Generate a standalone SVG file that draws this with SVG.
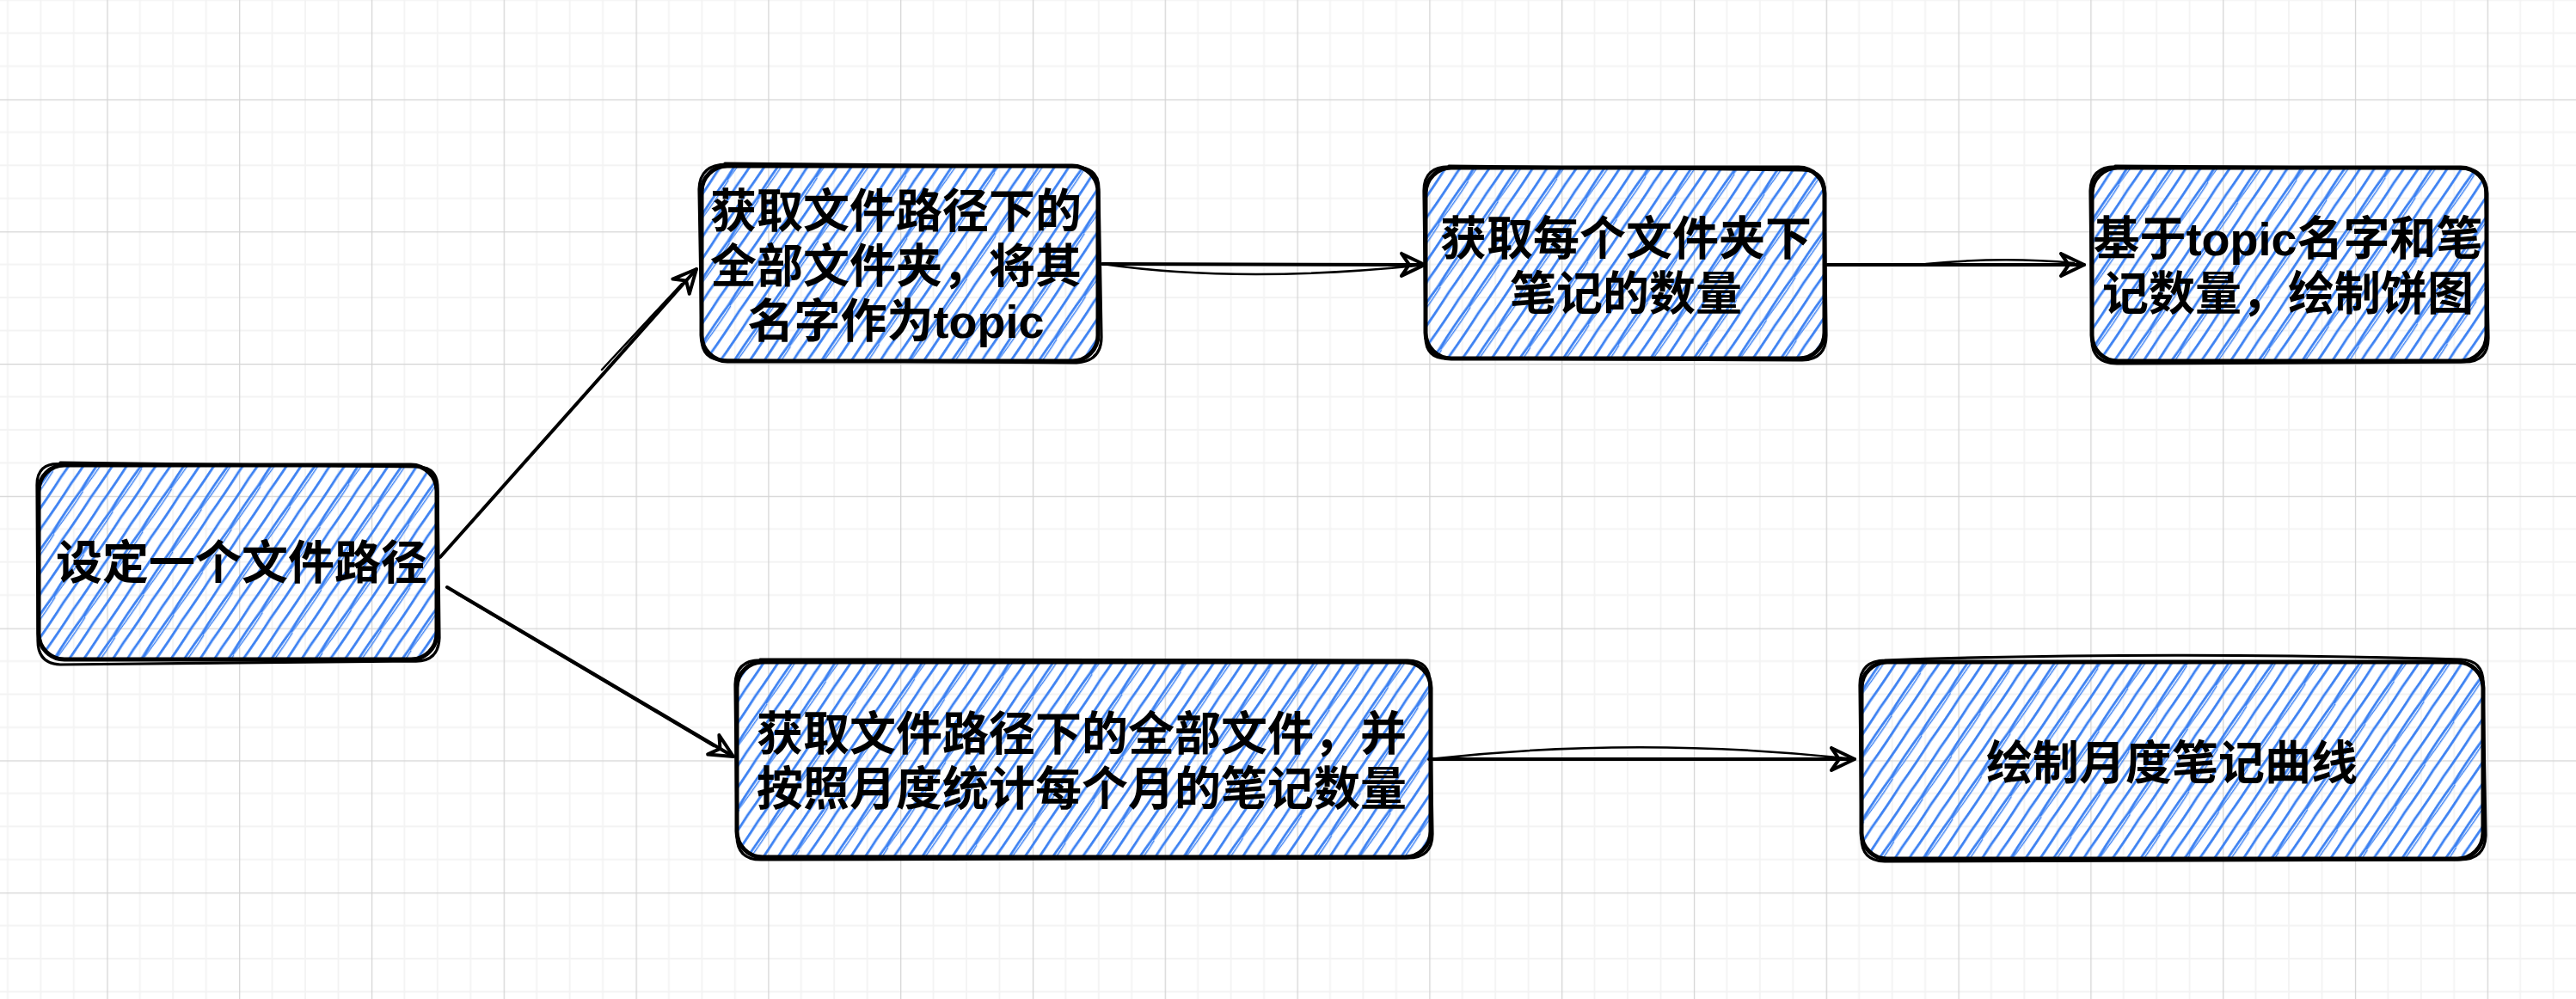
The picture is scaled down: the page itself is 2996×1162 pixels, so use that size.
<svg xmlns="http://www.w3.org/2000/svg" width="2996" height="1162" viewBox="0 0 2996 1162">
<defs>
<style>
.bg{fill:#ffffff}
.gridfill{fill:url(#grid)}
.box{fill:url(#hatch);stroke:#000;stroke-width:5;stroke-linejoin:round}
.rough{fill:none;stroke:#000;stroke-width:3.2;stroke-linecap:round;stroke-linejoin:round}
.label{font-family:"Liberation Sans","Noto Sans CJK SC",sans-serif;font-weight:700;fill:#000;text-anchor:middle}
.edge{fill:none;stroke:#000;stroke-width:4;stroke-linecap:round}
.edge2{fill:none;stroke:#000;stroke-width:2.5;stroke-linecap:round}
</style>
<pattern id="grid" patternUnits="userSpaceOnUse" x="124.3" y="115.4" width="153.8" height="153.8">
<g stroke="#f3f3f3" stroke-width="1.8">
<line x1="38.45" y1="0" x2="38.45" y2="153.8"/>
<line x1="76.9" y1="0" x2="76.9" y2="153.8"/>
<line x1="115.35" y1="0" x2="115.35" y2="153.8"/>
<line x1="0" y1="38.45" x2="153.8" y2="38.45"/>
<line x1="0" y1="76.9" x2="153.8" y2="76.9"/>
<line x1="0" y1="115.35" x2="153.8" y2="115.35"/>
</g>
<g stroke="#d4d4d4" stroke-width="1.3">
<line x1="0.6" y1="0" x2="0.6" y2="153.8"/>
<line x1="0" y1="0.6" x2="153.8" y2="0.6"/>
</g>
</pattern>
<pattern id="hatch" patternUnits="userSpaceOnUse" width="42" height="60" patternTransform="rotate(34)">
<g stroke="#3a80f2" fill="none" stroke-linecap="round">
<path d="M5,-2 Q6,30 5,62" stroke-width="2.8"/>
<path d="M19,-2 Q17.5,30 19,62" stroke-width="2.8"/>
<path d="M21.5,-2 Q22.5,30 20.5,62" stroke-width="1.4"/>
<path d="M33,-2 Q34,30 33,62" stroke-width="2.8"/>
</g>
</pattern>
<marker id="arrow" markerUnits="userSpaceOnUse" markerWidth="40" markerHeight="40" viewBox="-34 -20 40 40" refX="0" refY="0" orient="auto" overflow="visible">
<path d="M-27,-13 L0,0 L-27,13 M-27,-13 L-18,0 L-27,13" fill="none" stroke="#000" stroke-width="4" stroke-linejoin="round" stroke-linecap="round"/>
</marker>
</defs>
<rect class="bg" x="0" y="0" width="2996" height="1162"/>
<rect class="gridfill" x="0" y="0" width="2996" height="1162"/>

<g id="connectors">
<path class="edge" d="M512,648 L810,313" marker-end="url(#arrow)"/>
<path class="edge2" d="M700,430 L793,330"/>
<path class="edge" d="M520,683 L853,880" marker-end="url(#arrow)"/>
<path class="edge2" d="M530,690 L830,868"/>
<path class="edge" d="M1282,307 L1657,308" marker-end="url(#arrow)"/>
<path class="edge2" d="M1282,307 Q1440,330 1648,309"/>
<path class="edge" d="M2125,308 L2424,308" marker-end="url(#arrow)"/>
<path class="edge2" d="M2240,307 Q2330,298 2412,306"/>
<path class="edge" d="M1662,883 L2157,883" marker-end="url(#arrow)"/>
<path class="edge2" d="M1662,883 Q1900,856 2148,882"/>
</g>

<g id="node-a">
<rect class="box" x="45" y="541" width="463" height="226" rx="30"/>
<path class="rough" d="M70,538 L486,543 Q510,543 509,570 L511,742 Q510,770 482,769 L70,773 Q44,772 44,745 L43,566 Q42,537 72,540"/>
<text class="label" x="281" y="674" font-size="54">设定一个文件路径</text>
</g>

<g id="node-b">
<rect class="box" x="816" y="193" width="461" height="227" rx="30"/>
<path class="rough" d="M843,190 L1252,194 Q1279,195 1278,222 L1281,392 Q1281,420 1252,422 L843,419 Q815,419 816,392 L813,220 Q814,191 845,191"/>
<text class="label" font-size="54"><tspan x="1042" y="265">获取文件路径下的</tspan><tspan x="1042" y="329">全部文件夹，将其</tspan><tspan x="1042" y="393">名字作为topic</tspan></text>
</g>

<g id="node-c">
<rect class="box" x="1658" y="195" width="464" height="222" rx="30"/>
<path class="rough" d="M1685,193 L2096,198 Q2124,198 2122,225 L2124,390 Q2124,418 2096,419 L1685,417 Q1657,418 1658,390 L1656,222 Q1656,193 1687,194"/>
<text class="label" font-size="54"><tspan x="1891" y="297">获取每个文件夹下</tspan><tspan x="1891" y="361">笔记的数量</tspan></text>
</g>

<g id="node-d">
<rect class="box" x="2433" y="195" width="459" height="225" rx="30"/>
<path class="rough" d="M2460,193 L2865,196 Q2893,197 2891,225 L2894,393 Q2894,421 2866,421 L2462,423 Q2432,422 2433,394 L2431,222 Q2432,193 2462,194"/>
<text class="label" font-size="54"><tspan x="2661" y="297">基于topic名字和笔</tspan><tspan x="2661" y="361">记数量，绘制饼图</tspan></text>
</g>

<g id="node-e">
<rect class="box" x="857" y="770" width="807" height="227" rx="30"/>
<path class="rough" d="M884,767 L1637,768 Q1664,768 1663,796 L1666,970 Q1666,998 1637,998 L885,1000 Q857,1000 857,972 L855,796 Q856,767 886,768"/>
<text class="label" font-size="54"><tspan x="1258" y="873">获取文件路径下的全部文件，并</tspan><tspan x="1258" y="937">按照月度统计每个月的笔记数量</tspan></text>
</g>

<g id="node-f">
<rect class="box" x="2165" y="770" width="723" height="229" rx="30"/>
<path class="rough" d="M2192,768 Q2500,757 2862,767 Q2889,768 2888,796 L2891,972 Q2890,1000 2861,1000 L2192,1002 Q2164,1001 2165,973 L2163,797 Q2163,768 2193,768"/>
<text class="label" x="2526" y="907" font-size="54">绘制月度笔记曲线</text>
</g>
</svg>
